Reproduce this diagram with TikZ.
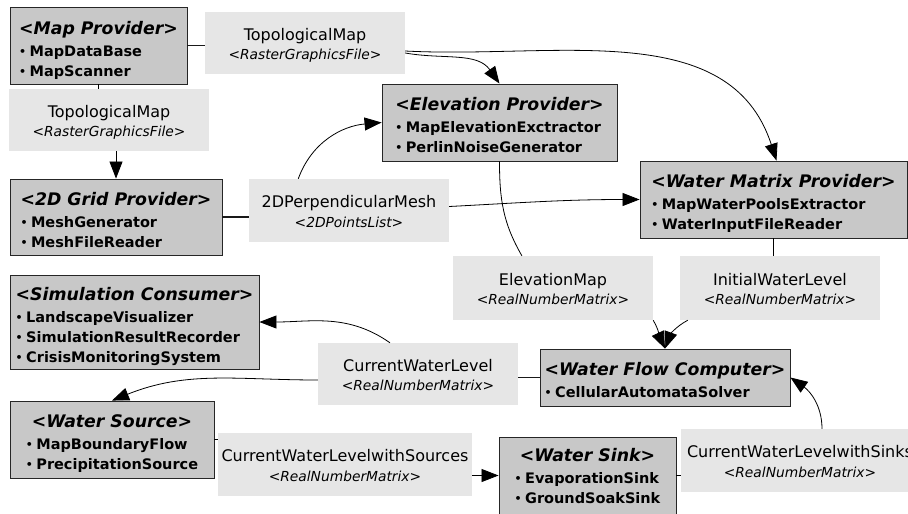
\documentclass[tikz,border=0pt]{standalone}
\usepackage{fontspec}
\setmainfont{DejaVu Sans}
\usetikzlibrary{arrows.meta}
\definecolor{boxgray}{HTML}{C8C8C8}
\definecolor{labgray}{HTML}{E6E6E6}
\newcommand{\ttlfont}{\fontsize{17.3}{20}\selectfont\bfseries\itshape}
\newcommand{\itmfont}{\fontsize{14.5}{20}\selectfont\bfseries}
\newcommand{\bul}{\makebox[10.5pt][l]{\raisebox{1pt}{\fontsize{11}{11}\selectfont •}}}
\newcommand{\comptext}[3][-5pt]{\raisebox{#1}[\height][\depth]{\itmfont\begin{tabular}{@{}l@{}}\multicolumn{1}{@{}c@{}}{\ttlfont #2}\\[2pt]#3\end{tabular}}}
\newcommand{\labtext}[2]{\raisebox{-3pt}[\height][\depth]{\fontsize{16}{19.5}\selectfont\begin{tabular}{@{}c@{}}#1\\{\fontsize{13.8}{16}\selectfont\itshape <#2>}\end{tabular}}}
\tikzset{
  comp/.style={draw=black!85, fill=boxgray, line width=0.9pt, inner sep=0pt, align=center},
  lab/.style={fill=labgray, inner sep=0pt, align=center},
  edge/.style={line width=0.8pt, black},
  dbl/.style={line width=1.6pt, black!90},
  arr/.style={edge, -{Triangle[length=17pt,width=13pt]}}
}
\begin{document}
\begin{tikzpicture}[x=1pt,y=-1pt]
\useasboundingbox[fill=white] (0,0) rectangle (908,514);
% components
\node[comp, minimum width=177pt, minimum height=77pt] (mp) at (98.5,45.5)
  {\comptext[-6pt]{<Map Provider>}{\bul MapDataBase\\\bul MapScanner}};
\node[comp, minimum width=212pt, minimum height=76pt] (grid) at (116,217)
  {\comptext{<2D Grid Provider>}{\bul MeshGenerator\\\bul MeshFileReader}};
\node[comp, minimum width=235pt, minimum height=77pt] (elev) at (499.5,122.5)
  {\comptext{<Elevation Provider>}{\bul MapElevationExctractor\\\bul PerlinNoiseGenerator}};
\node[comp, minimum width=267pt, minimum height=77pt] (wmp) at (773.5,199.5)
  {\comptext{<Water Matrix Provider>}{\bul MapWaterPoolsExtractor\\\bul WaterInputFileReader}};
\node[comp, minimum width=249pt, minimum height=94pt] (simc) at (134.5,322)
  {\comptext{<Simulation Consumer>}{\bul LandscapeVisualizer\\\bul SimulationResultRecorder\\\bul CrisisMonitoringSystem}};
\node[comp, minimum width=250pt, minimum height=57pt] (wfc) at (665,377.5)
  {\comptext{<Water Flow Computer>}{\bul CellularAutomataSolver}};
\node[comp, minimum width=204pt, minimum height=77pt] (ws) at (112,439.5)
  {\comptext{<Water Source>}{\bul MapBoundaryFlow\\\bul PrecipitationSource}};
\node[comp, minimum width=177pt, minimum height=77pt] (sink) at (587.5,475.5)
  {\comptext[-3pt]{<Water Sink>}{\bul EvaporationSink\\\bul GroundSoakSink}};
% labels
\node[lab, minimum width=200pt, minimum height=62pt] (tm1) at (305,43)
  {\labtext{TopologicalMap}{RasterGraphicsFile}};
\node[lab, minimum width=200pt, minimum height=62pt] (tm2) at (109,120)
  {\labtext{TopologicalMap}{RasterGraphicsFile}};
\node[lab, minimum width=200pt, minimum height=63pt] (mesh) at (349,210.5)
  {\labtext{2DPerpendicularMesh}{2DPointsList}};
\node[lab, minimum width=200pt, minimum height=64pt] (elevmap) at (553,288)
  {\labtext{ElevationMap}{RealNumberMatrix}};
\node[lab, minimum width=200pt, minimum height=64pt] (iwl) at (780,288)
  {\labtext{InitialWaterLevel}{RealNumberMatrix}};
\node[lab, minimum width=200pt, minimum height=62pt] (cwl) at (418,374)
  {\labtext{CurrentWaterLevel}{RealNumberMatrix}};
\node[lab, minimum width=254pt, minimum height=63pt] (cwls) at (345,464.5)
  {\labtext{CurrentWaterLevelwithSources}{RealNumberMatrix}};
\node[lab, minimum width=238pt, minimum height=63pt] (cwlk) at (800,460.5)
  {\labtext{CurrentWaterLevelwithSinks}{RealNumberMatrix}};
% connectors
\draw[dbl] (mp.east) -- (mp.east -| tm1.west);
\draw[arr] ([yshift=-10pt]tm1.east) to[out=-10,in=125] (elev.north);
\draw[arr] ([yshift=-8pt]tm1.east) to[out=-3,in=108] ([xshift=3pt]wmp.north);
\draw[edge] (mp.south) -- (mp.south |- tm2.north);
\draw[arr] (grid.north |- tm2.south) -- (grid.north);
\draw[dbl] (grid.east) -- (grid.east -| mesh.west);
\draw[arr] (mesh.148) to[out=70,in=185] (elev.west);
\draw[arr] ([yshift=4pt]mesh.east) to[out=3,in=180] (wmp.west);
\draw[edge] (elev.south) to[out=-90,in=120] (elevmap.134);
\draw[edge] (wmp.south) -- (wmp.south |- iwl.north);
\draw[arr] (elevmap.south east) to[out=-60,in=115] (wfc.north);
\draw[arr] ([xshift=8pt]iwl.south west) to[out=208,in=70] (wfc.north);
\draw[dbl] (wfc.west) -- (wfc.west -| cwl.east);
\draw[arr] ([xshift=-28pt]cwl.north) to[out=145,in=0] (simc.east);
\draw[arr] ([yshift=-6pt]cwl.west) to[out=180,in=22] (ws.north);
\draw[edge] (ws.east) -- (ws.east -| cwls.west);
\draw[arr] (sink.west -| cwls.east) -- (sink.west);
\draw[edge] (sink.east) -- (sink.east -| cwlk.west);
\draw[arr] ([xshift=22pt]cwlk.north) to[out=90,in=-35] (wfc.east);
\end{tikzpicture}
\end{document}
